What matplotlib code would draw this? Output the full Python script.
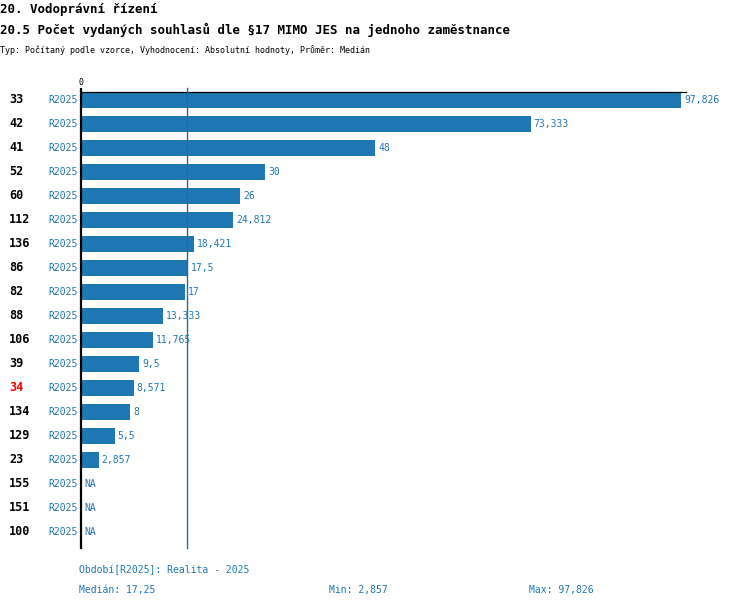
import numpy as np
import matplotlib
matplotlib.use("Agg")
import matplotlib.pyplot as plt
import matplotlib.transforms as mtransforms

# data
units = ["33", "42", "41", "52", "60", "112", "136", "86", "82", "88",
         "106", "39", "34", "134", "129", "23", "155", "151", "100"]
values = [97.826, 73.333, 48, 30, 26, 24.812, 18.421, 17.5, 17, 13.333,
          11.765, 9.5, 8.571, 8, 5.5, 2.857, None, None, None]
period = "R2025"
highlight = "34"
median = 17.25
min_val = 2.857
max_val = 97.826

W, H = 750, 608
blue = "#1f77b4"
mono = "DejaVu Sans Mono"

plt.rcParams['font.family'] = [mono, 'DejaVu Sans']


def fmt(v):
    s = "{:.3f}".format(v).rstrip("0").rstrip(".")
    return s.replace(".", ",")


fig = plt.figure(figsize=(W / 100, H / 100), dpi=100)
# axes placed in pixel terms: left 81, right 686, top 92, bottom 548
ax = fig.add_axes([81 / W, (H - 548) / H, 605 / W, 456 / H])

n = len(units)
y = np.arange(n)
bar_vals = [v if v is not None else 0 for v in values]
bars = ax.barh(y, bar_vals, height=0.667, color=blue, zorder=2)
for i, v in enumerate(values):
    if v is None:
        bars[i].set_visible(False)

ax.set_xlim(0, 98.64)
ax.set_ylim(n - 1 + 0.667, -0.333)

# median line
ax.axvline(median, ymin=0, ymax=1.0 + 4 / 456, color="#236a9e", lw=1.0,
           zorder=3, clip_on=False)

for s in ["right", "bottom"]:
    ax.spines[s].set_visible(False)
ax.spines["left"].set_linewidth(1.6)
ax.spines["left"].set_color("black")
ax.spines["top"].set_linewidth(0.9)
ax.spines["top"].set_color("black")
ax.spines["left"].set_zorder(4)

ax.set_yticks([])
ax.xaxis.tick_top()
ax.set_xticks([0])
ax.set_xticklabels(["0"])
ax.tick_params(axis="x", length=3, width=1.6, color="black", labelsize=6, pad=0.5)

trans = mtransforms.blended_transform_factory(fig.transFigure, ax.transData)
for i, (u, v) in enumerate(zip(units, values)):
    ax.text(9 / W, i, u, transform=trans, ha="left", va="center",
            fontsize=8.5, fontweight="bold",
            color="red" if u == highlight else "black")
    ax.text(78 / W, i, period, transform=trans, ha="right", va="center",
            fontsize=7, color=blue)
    if v is None:
        ax.annotate("NA", (0, i), xytext=(3, 0), textcoords="offset pixels",
                    ha="left", va="center", fontsize=7, color=blue)
    else:
        ax.annotate(fmt(v), (v, i), xytext=(3, 0), textcoords="offset pixels",
                    ha="left", va="center", fontsize=7, color=blue,
                    annotation_clip=False)

# titles
fig.text(0 / W, 1 - 9 / H, "20. Vodoprávní řízení", ha="left", va="center",
         fontsize=9, fontweight="bold")
fig.text(0 / W, 1 - 30 / H,
         "20.5 Počet vydaných souhlasů dle §17 MIMO JES na jednoho zaměstnance",
         ha="left", va="center", fontsize=9, fontweight="bold")
fig.text(0 / W, 1 - 50 / H,
         "Typ: Počítaný podle vzorce, Vyhodnocení: Absolutní hodnoty, Průměr: Medián",
         ha="left", va="center", fontsize=6)

# footer
fig.text(79 / W, 1 - 570 / H, "Období[{}]: Realita - 2025".format(period),
         ha="left", va="center", fontsize=7, color=blue)
fig.text(79 / W, 1 - 590 / H, "Medián: " + fmt(median),
         ha="left", va="center", fontsize=7, color=blue)
fig.text(329 / W, 1 - 590 / H, "Min: " + fmt(min_val),
         ha="left", va="center", fontsize=7, color=blue)
fig.text(529 / W, 1 - 590 / H, "Max: " + fmt(max_val),
         ha="left", va="center", fontsize=7, color=blue)

fig.savefig("out.png", dpi=100)
